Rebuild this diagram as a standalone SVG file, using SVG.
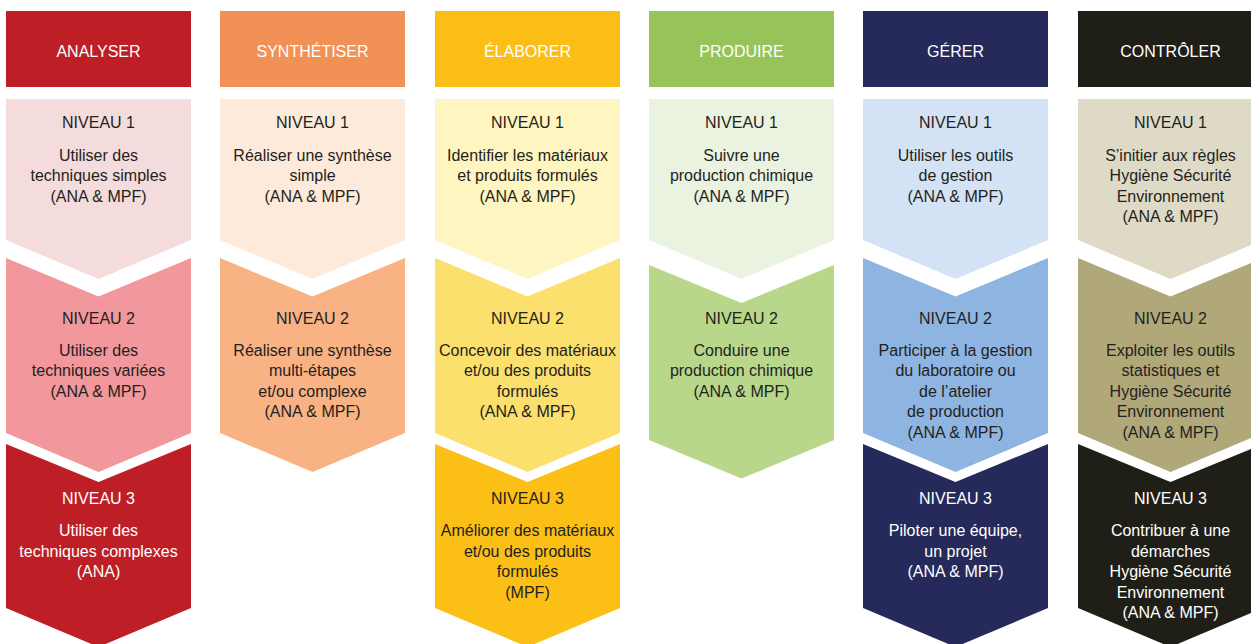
<svg xmlns="http://www.w3.org/2000/svg" width="1251" height="644" viewBox="0 0 1251 644">
<style>
text{font-family:"Liberation Sans",Arial,sans-serif;font-size:16px;text-anchor:middle}
.d{fill:#231F20}
.w{fill:#FFFFFF}
.h{font-size:16px}
</style>
<defs>
<path id="l1" d="M0,99 H185 V240 L92.5,279 L0,240 Z"/>
<path id="l2" d="M0,258 L92.5,296.5 L185,258 V433 L92.5,472 L0,433 Z"/>
<path id="l2b" d="M0,265 L92.5,303 L185,265 V440 L92.5,478.5 L0,440 Z"/>
<path id="l3" d="M0,444 L92.5,482 L185,444 V608 L92.5,647 L0,608 Z"/>
</defs>
<rect width="1251" height="644" fill="#FFFFFF"/>
<g id="connectors"/>

<!-- ANALYSER -->
<g transform="translate(6,0)">
<g id="analyser-header"><rect x="0" y="11" width="185" height="76" fill="#BE1E25"/><text class="w h" x="92.5" y="57">ANALYSER</text></g>
<g id="analyser-n1"><use href="#l1" fill="#F5DCDC"/>
<text class="d" x="92.5" y="128">NIVEAU 1</text>
<text class="d" x="92.5" y="160.5">Utiliser des</text>
<text class="d" x="92.5" y="181">techniques simples</text>
<text class="d" x="92.5" y="201.5">(ANA &amp; MPF)</text></g>
<g id="analyser-n2"><use href="#l2" fill="#F2979B"/>
<text class="d" x="92.5" y="324">NIVEAU 2</text>
<text class="d" x="92.5" y="355.5">Utiliser des</text>
<text class="d" x="92.5" y="376">techniques variées</text>
<text class="d" x="92.5" y="396.5">(ANA &amp; MPF)</text></g>
<g id="analyser-n3"><use href="#l3" fill="#BE1E25"/>
<text class="w" x="92.5" y="504">NIVEAU 3</text>
<text class="w" x="92.5" y="536">Utiliser des</text>
<text class="w" x="92.5" y="556.5">techniques complexes</text>
<text class="w" x="92.5" y="577">(ANA)</text></g>
</g>

<!-- SYNTHETISER -->
<g transform="translate(220,0)">
<g id="synthetiser-header"><rect x="0" y="11" width="185" height="76" fill="#F29155"/><text class="w h" x="92.5" y="57">SYNTHÉTISER</text></g>
<g id="synthetiser-n1"><use href="#l1" fill="#FDEADA"/>
<text class="d" x="92.5" y="128">NIVEAU 1</text>
<text class="d" x="92.5" y="160.5">Réaliser une synthèse</text>
<text class="d" x="92.5" y="181">simple</text>
<text class="d" x="92.5" y="201.5">(ANA &amp; MPF)</text></g>
<g id="synthetiser-n2"><use href="#l2" fill="#F8B283"/>
<text class="d" x="92.5" y="324">NIVEAU 2</text>
<text class="d" x="92.5" y="355.5">Réaliser une synthèse</text>
<text class="d" x="92.5" y="376">multi-étapes</text>
<text class="d" x="92.5" y="396.5">et/ou complexe</text>
<text class="d" x="92.5" y="417">(ANA &amp; MPF)</text></g>
</g>

<!-- ELABORER -->
<g transform="translate(435,0)">
<g id="elaborer-header"><rect x="0" y="11" width="185" height="76" fill="#FBBE17"/><text class="w h" x="92.5" y="57">ÉLABORER</text></g>
<g id="elaborer-n1"><use href="#l1" fill="#FEF5C0"/>
<text class="d" x="92.5" y="128">NIVEAU 1</text>
<text class="d" x="92.5" y="160.5">Identifier les matériaux</text>
<text class="d" x="92.5" y="181">et produits formulés</text>
<text class="d" x="92.5" y="201.5">(ANA &amp; MPF)</text></g>
<g id="elaborer-n2"><use href="#l2" fill="#FBE06D"/>
<text class="d" x="92.5" y="324">NIVEAU 2</text>
<text class="d" x="92.5" y="355.5">Concevoir des matériaux</text>
<text class="d" x="92.5" y="376">et/ou des produits</text>
<text class="d" x="92.5" y="396.5">formulés</text>
<text class="d" x="92.5" y="417">(ANA &amp; MPF)</text></g>
<g id="elaborer-n3"><use href="#l3" fill="#FBBF15"/>
<text class="d" x="92.5" y="504">NIVEAU 3</text>
<text class="d" x="92.5" y="536">Améliorer des matériaux</text>
<text class="d" x="92.5" y="556.5">et/ou des produits</text>
<text class="d" x="92.5" y="577">formulés</text>
<text class="d" x="92.5" y="597.5">(MPF)</text></g>
</g>

<!-- PRODUIRE -->
<g transform="translate(649,0)">
<g id="produire-header"><rect x="0" y="11" width="185" height="76" fill="#97C459"/><text class="w h" x="92.5" y="57">PRODUIRE</text></g>
<g id="produire-n1"><use href="#l1" fill="#EAF2E0"/>
<text class="d" x="92.5" y="128">NIVEAU 1</text>
<text class="d" x="92.5" y="160.5">Suivre une</text>
<text class="d" x="92.5" y="181">production chimique</text>
<text class="d" x="92.5" y="201.5">(ANA &amp; MPF)</text></g>
<g id="produire-n2"><use href="#l2b" fill="#B9D78A"/>
<text class="d" x="92.5" y="324">NIVEAU 2</text>
<text class="d" x="92.5" y="355.5">Conduire une</text>
<text class="d" x="92.5" y="376">production chimique</text>
<text class="d" x="92.5" y="396.5">(ANA &amp; MPF)</text></g>
</g>

<!-- GERER -->
<g transform="translate(863,0)">
<g id="gerer-header"><rect x="0" y="11" width="185" height="76" fill="#252A5A"/><text class="w h" x="92.5" y="57">GÉRER</text></g>
<g id="gerer-n1"><use href="#l1" fill="#D3E2F4"/>
<text class="d" x="92.5" y="128">NIVEAU 1</text>
<text class="d" x="92.5" y="160.5">Utiliser les outils</text>
<text class="d" x="92.5" y="181">de gestion</text>
<text class="d" x="92.5" y="201.5">(ANA &amp; MPF)</text></g>
<g id="gerer-n2"><use href="#l2" fill="#8EB4E2"/>
<text class="d" x="92.5" y="324">NIVEAU 2</text>
<text class="d" x="92.5" y="355.5">Participer à la gestion</text>
<text class="d" x="92.5" y="376">du laboratoire ou</text>
<text class="d" x="92.5" y="396.5">de l’atelier</text>
<text class="d" x="92.5" y="417">de production</text>
<text class="d" x="92.5" y="437.5">(ANA &amp; MPF)</text></g>
<g id="gerer-n3"><use href="#l3" fill="#252A5A"/>
<text class="w" x="92.5" y="504">NIVEAU 3</text>
<text class="w" x="92.5" y="536">Piloter une équipe,</text>
<text class="w" x="92.5" y="556.5">un projet</text>
<text class="w" x="92.5" y="577">(ANA &amp; MPF)</text></g>
</g>

<!-- CONTROLER -->
<g transform="translate(1078,0)">
<g id="controler-header"><rect x="0" y="11" width="185" height="76" fill="#1F1F17"/><text class="w h" x="92.5" y="57">CONTRÔLER</text></g>
<g id="controler-n1"><use href="#l1" fill="#DFDAC6"/>
<text class="d" x="92.5" y="128">NIVEAU 1</text>
<text class="d" x="92.5" y="160.5">S’initier aux règles</text>
<text class="d" x="92.5" y="181">Hygiène Sécurité</text>
<text class="d" x="92.5" y="201.5">Environnement</text>
<text class="d" x="92.5" y="222">(ANA &amp; MPF)</text></g>
<g id="controler-n2"><use href="#l2" fill="#B0A878"/>
<text class="d" x="92.5" y="324">NIVEAU 2</text>
<text class="d" x="92.5" y="355.5">Exploiter les outils</text>
<text class="d" x="92.5" y="376">statistiques et</text>
<text class="d" x="92.5" y="396.5">Hygiène Sécurité</text>
<text class="d" x="92.5" y="417">Environnement</text>
<text class="d" x="92.5" y="437.5">(ANA &amp; MPF)</text></g>
<g id="controler-n3"><use href="#l3" fill="#1F1F17"/>
<text class="w" x="92.5" y="504">NIVEAU 3</text>
<text class="w" x="92.5" y="536">Contribuer à une</text>
<text class="w" x="92.5" y="556.5">démarches</text>
<text class="w" x="92.5" y="577">Hygiène Sécurité</text>
<text class="w" x="92.5" y="597.5">Environnement</text>
<text class="w" x="92.5" y="618">(ANA &amp; MPF)</text></g>
</g>
</svg>
